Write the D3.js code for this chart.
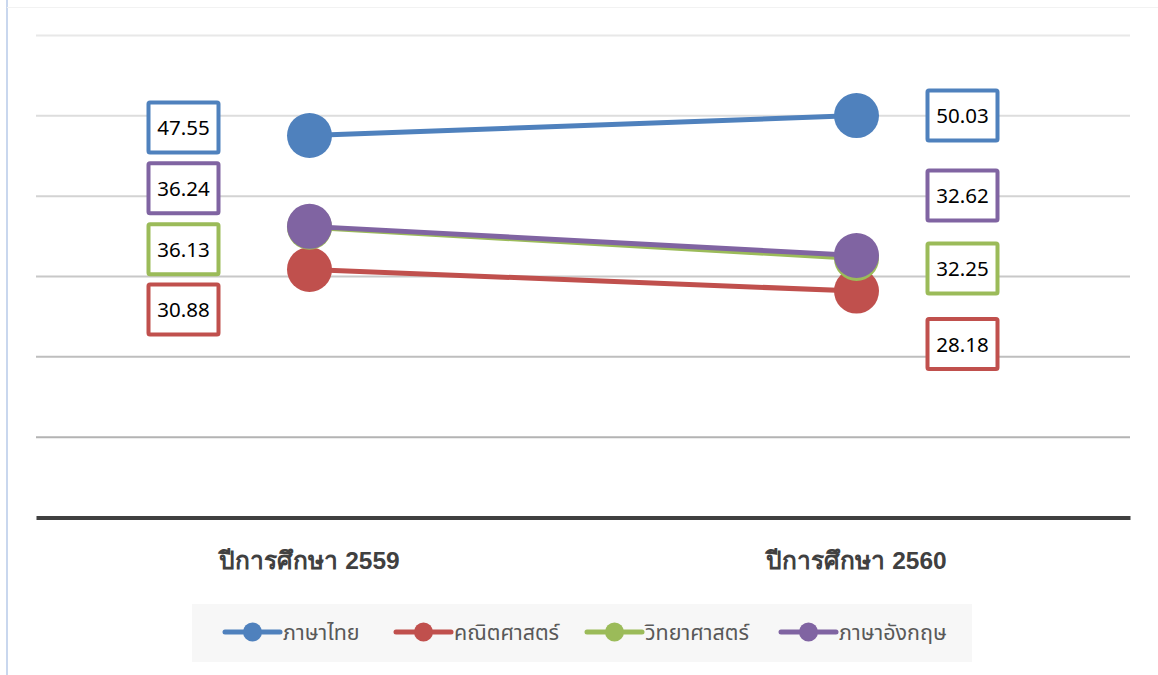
<!DOCTYPE html>
<html><head><meta charset="utf-8">
<script src="https://cdn.jsdelivr.net/npm/d3@7"></script>
<style>
html,body{margin:0;padding:0;background:#fff;}
svg{display:block;font-family:"Noto Sans","Noto Sans Thai",Tahoma,"DejaVu Sans",sans-serif;}
</style></head>
<body><svg id="c" width="1158" height="675"></svg>
<script>
const categories = ["ปีการศึกษา 2559", "ปีการศึกษา 2560"];
const seriesNames = ["ภาษาไทย", "คณิตศาสตร์", "วิทยาศาสตร์", "ภาษาอังกฤษ"];
const thaiValues = [47.55, 50.03];
const mathValues = [30.88, 28.18];
const scienceValues = [36.13, 32.25];
const englishValues = [36.24, 32.62];
const yTicks = [0, 10, 20, 30, 40, 50, 60];

const colors = ["#4f81bd", "#c0504d", "#9bbb59", "#8064a2"];
const allValues = [thaiValues, mathValues, scienceValues, englishValues];
const series = seriesNames.map((n, i) => ({name: n, values: allValues[i], color: colors[i]}));
// label placement (pixel offsets from the point, per series and category)
const labelDX = [-126, 106];
const labelDY = [[-8, 0], [40, 53], [22, 10], [-38, -60]];

const svg = d3.select("#c");
// chart frame
svg.append("line").attr("x1", 7).attr("x2", 7).attr("y1", 0).attr("y2", 675)
  .attr("stroke", "#c9d7ee").attr("stroke-width", 2);
svg.append("line").attr("x1", 7).attr("x2", 1158).attr("y1", 7.5).attr("y2", 7.5)
  .attr("stroke", "#f2f2f2").attr("stroke-width", 1);

const x = d3.scaleBand().domain(categories).range([36, 1130]);
const y = d3.scaleLinear().domain([0, 60]).range([517.5, 35.5]);

const gridColors = d3.scaleLinear().domain([10, 60]).range(["#b3b3b3", "#e8e8e8"]);
svg.append("g").selectAll("line").data(yTicks.filter(t => t > 0)).join("line")
  .attr("x1", 36).attr("x2", 1130)
  .attr("y1", d => y(d)).attr("y2", d => y(d))
  .attr("stroke", d => gridColors(d)).attr("stroke-width", 2);

// x axis
const xAxis = svg.append("g").attr("transform", `translate(0,${y(0)})`)
  .call(d3.axisBottom(x).tickSize(0).tickPadding(34));
xAxis.select(".domain").attr("stroke", "#404040").attr("stroke-width", 4);
xAxis.selectAll("text").attr("font-size", 24.5).attr("font-weight", "bold")
  .attr("fill", "#404040");

const cx = c => x(c) + x.bandwidth() / 2;
const line = d3.line().x((d, i) => cx(categories[i])).y(d => y(d));

series.forEach(s => {
  svg.append("path").datum(s.values).attr("d", line)
    .attr("fill", "none").attr("stroke", s.color).attr("stroke-width", 5);
  svg.append("g").selectAll("circle").data(s.values).join("circle")
    .attr("cx", (d, i) => cx(categories[i])).attr("cy", d => y(d)).attr("r", 22.5)
    .attr("fill", s.color);
});

// data labels
series.forEach((s, si) => {
  s.values.forEach((v, i) => {
    const lx = cx(categories[i]) + labelDX[i];
    const ly = y(v) + labelDY[si][i];
    const g = svg.append("g").attr("transform", `translate(${lx},${ly})`);
    g.append("rect").attr("x", -35).attr("y", -25).attr("width", 70).attr("height", 50)
      .attr("fill", "#fff").attr("stroke", s.color).attr("stroke-width", 4).attr("rx", 1.5);
    g.append("text").attr("text-anchor", "middle").attr("dy", "0.36em")
      .attr("font-size", 20.5).attr("fill", "#000").text(v.toFixed(2));
  });
});

// legend
svg.append("rect").attr("x", 192).attr("y", 604).attr("width", 780).attr("height", 58)
  .attr("fill", "#f7f7f7");
const legendX = [225, 396, 587, 781];
const lg = svg.append("g").selectAll("g").data(series).join("g")
  .attr("transform", (d, i) => `translate(${legendX[i]},632)`);
lg.append("line").attr("x1", 0).attr("x2", 55).attr("stroke", d => d.color)
  .attr("stroke-width", 5).attr("stroke-linecap", "round");
lg.append("circle").attr("cx", 27.5).attr("r", 9.5).attr("fill", d => d.color);
lg.append("text").attr("x", 58).attr("dy", "0.35em").attr("font-size", 21.5)
  .attr("fill", "#595959").text(d => d.name);
</script></body></html>
